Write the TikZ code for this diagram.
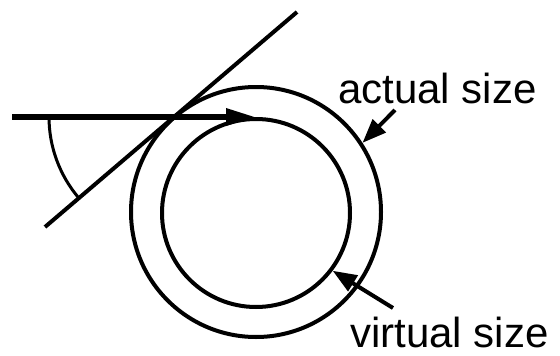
\documentclass[tikz,border=0pt]{standalone}
\usepackage{fontspec}
\setmainfont{Liberation Sans}
\usetikzlibrary{arrows.meta}

\begin{document}
\begin{tikzpicture}[
    x=1pt, y=-1pt,
    ring/.style={draw, circle, line width=4pt, inner sep=0pt},
    bigarr/.style={-{Triangle[length=30pt, width=16pt]}, line width=6pt},
    lblarr/.style={-{Triangle[length=24pt, width=18pt]}, line width=4pt},
    lbl/.style={font=\fontsize{42}{48}\selectfont, inner sep=0pt, anchor=base west}
]
\useasboundingbox (0,0) rectangle (560,356);
\node[ring, minimum size=250pt] (outer) at (256,212) {};
\node[ring, minimum size=188pt] (inner) at (256,213) {};
\node[lbl] (actual) at (338,103) {actual size};
\node[lbl] (virtual) at (350,347) {virtual size};

\coordinate (src) at (12,117);
\coordinate (tanA) at (297,12);
\coordinate (tanB) at (45,227);
\coordinate (vertex) at (174,117);
\coordinate (actualtail) at (395,110);
\coordinate (virtualtail) at (393,308);

\draw[line width=4pt] (tanA) -- (tanB);
\draw[line width=3pt] (vertex) ++(180:125) arc[start angle=180, end angle=139.5, radius=125];
\draw[bigarr] (src) -- (inner.north);
\draw[lblarr] (actualtail) -- (outer.33.6);
\draw[lblarr] (virtualtail) -- (inner.-37.8);
\end{tikzpicture}
\end{document}
